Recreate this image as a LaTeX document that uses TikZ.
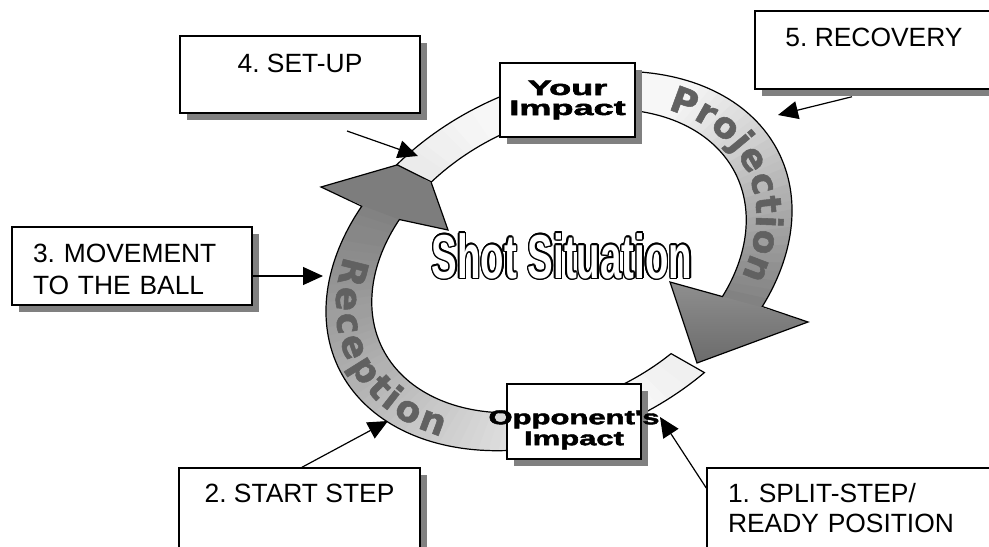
\documentclass[tikz,border=0pt]{standalone}
\usepackage{fontspec}
\setmainfont{Liberation Sans}
\newfontfamily\blackfont{Liberation Sans}[BoldFeatures={FakeBold=2}]
\newfontfamily\bandfam{DejaVu Sans}[BoldFeatures={FakeBold=1.5}]
\newcommand\heavyfont{\blackfont\bfseries}
\usepackage{graphicx}
\usetikzlibrary{shadows,arrows.meta,decorations.text,calc}
\colorlet{bandtext}{black!62}
\newcommand\bandfont{\bandfam\bfseries\fontsize{18}{18}\selectfont\color{bandtext}}
\frenchspacing
\begin{document}
\begin{tikzpicture}[x=0.5pt, y=0.5pt,
  declare function={ex(\q,\ra,\rb)=559+\ra*cos(\q)*0.89879-\rb*sin(\q)*0.43837;
                    ey(\q,\ra,\rb)=-261+\ra*cos(\q)*0.43837+\rb*sin(\q)*0.89879;},
  stepbox/.style={draw=black, line width=0.75pt, fill=white,
    drop shadow={shadow xshift=3.5pt, shadow yshift=-3.5pt, fill=black!50, opacity=1},
    font=\fontsize{13.2}{16}\selectfont, inner sep=0pt},
  impactbox/.style={draw=black, line width=0.75pt, fill=white,
    drop shadow={shadow xshift=3.25pt, shadow yshift=-3.25pt, fill=black!50, opacity=1},
    font=\heavyfont\fontsize{10.5}{10}\selectfont, inner sep=0pt, align=center},
  ringline/.style={draw=black, line width=0.6pt, line join=miter},
  ptr/.style={line width=0.6pt, -{Triangle[length=10pt,width=9pt]}},
  shotfont/.style={font=\bfseries\fontsize{31}{31}\selectfont, inner sep=0pt}
]
\fill[white] (0,0) rectangle (989,-546);
\useasboundingbox (0,0) rectangle (989,-546);

% arrowhead vertices
\coordinate (rwL) at (321,-187);
\coordinate (rtip) at (422.4,-157.6);
\coordinate (rwR) at (448,-230);
\coordinate (pwO) at (808,-322);
\coordinate (ptip) at (697,-363);
\coordinate (pwI) at (670,-282);

% ---------- Reception arrow ----------
\foreach \i in {0,...,59}{
  \pgfmathsetmacro\toa{289.5-161*\i/60}
  \pgfmathsetmacro\tob{289.5-161*(\i+1.4)/60}
  \pgfmathsetmacro\tia{288-158.5*\i/60}
  \pgfmathsetmacro\tib{288-158.5*(\i+1.4)/60}
  \pgfmathsetmacro\tm{289.5-161*(\i+0.5)/60}
  \pgfmathtruncatemacro\pct{\tm>270 ? 3+(\tm-270)*4/19.5 : 3+(270-\tm)*47/141}
  \fill[black!\pct] ({ex(\toa,245,174)},{ey(\toa,245,174)}) -- ({ex(\tob,245,174)},{ey(\tob,245,174)})
     -- ({ex(\tib,197,139)},{ey(\tib,197,139)}) -- ({ex(\tia,197,139)},{ey(\tia,197,139)}) -- cycle;
}
\fill[black!51] ({ex(128.5,245,174)},{ey(128.5,245,174)}) -- (rwL) -- (rtip) -- (rwR)
   -- ({ex(129.5,197,139)},{ey(129.5,197,139)}) -- cycle;
\draw[ringline] plot[domain=0:1, samples=100, variable=\pp] ({ex(289.5-161*\pp,245,174)},{ey(289.5-161*\pp,245,174)})
   -- (rwL) -- (rtip) -- (rwR)
   -- plot[domain=0:1, samples=100, variable=\pp] ({ex(129.5+158.5*\pp,197,139)},{ey(129.5+158.5*\pp,197,139)}) -- cycle;

% ---------- Projection arrow ----------
\foreach \i in {0,...,59}{
  \pgfmathsetmacro\toa{115-163.6*\i/60}
  \pgfmathsetmacro\tob{115-163.6*(\i+1.4)/60}
  \pgfmathsetmacro\tia{114.2-162.4*\i/60}
  \pgfmathsetmacro\tib{114.2-162.4*(\i+1.4)/60}
  \pgfmathsetmacro\tm{115-163.6*(\i+0.5)/60}
  \pgfmathtruncatemacro\pct{\tm>90 ? 3+(\tm-90)*6/25 : (\tm>38 ? 3 : 3+(38-\tm)*47/86.6)}
  \fill[black!\pct] ({ex(\toa,245,174)},{ey(\toa,245,174)}) -- ({ex(\tob,245,174)},{ey(\tob,245,174)})
     -- ({ex(\tib,197,139)},{ey(\tib,197,139)}) -- ({ex(\tia,197,139)},{ey(\tia,197,139)}) -- cycle;
}
\shade[top color=black!44, bottom color=black!58] ({ex(-48.6,245,174)},{ey(-48.6,245,174)}) -- (pwO) -- (ptip) -- (pwI)
   -- ({ex(-48.2,197,139)},{ey(-48.2,197,139)}) -- cycle;
\draw[ringline] plot[domain=0:1, samples=100, variable=\pp] ({ex(115-163.6*\pp,245,174)},{ey(115-163.6*\pp,245,174)})
   -- (pwO) -- (ptip) -- (pwI)
   -- plot[domain=0:1, samples=100, variable=\pp] ({ex(-48.2+162.4*\pp,197,139)},{ey(-48.2+162.4*\pp,197,139)}) -- cycle;

% ---------- band texts ----------
\path[decorate, decoration={text along path, text={|\bandfont|Projection}, text align={fit to path}}]
  plot[domain=0:1, samples=80, variable=\pp] ({ex(38-79*\pp,208,143.5)},{ey(38-79*\pp,208,143.5)});
\path[decorate, decoration={text along path, text={|\bandfont|Reception}, text align={fit to path}}]
  plot[domain=0:1, samples=80, variable=\pp] ({ex(144.5+74.2*\pp,234,169.5)},{ey(144.5+74.2*\pp,234,169.5)});

% ---------- Shot Situation ----------
\coordinate (shotpos) at (562,-256);
\foreach \i in {0,...,15}
  \node[shotfont, text=black, shift={(\i*22.5:0.75pt)}] (shotc\i) at (shotpos) {\scalebox{0.62}[1]{Shot Situation}};
\node[shotfont, text=white] (shot) at (shotpos) {\scalebox{0.62}[1]{Shot Situation}};

% ---------- impact boxes ----------
\node[impactbox, minimum width=67.5pt, minimum height=37pt] (yi) at (567.5,-100)
  {\makebox[0pt]{\scalebox{1.72}[1]{Your}}\\\makebox[0pt]{\scalebox{1.72}[1]{Impact}}};
\node[impactbox, minimum width=67pt, minimum height=37.5pt, font=\heavyfont\fontsize{10}{10.5}\selectfont] (oi) at (574,-421.5)
  {\rule{0pt}{15.3pt}\makebox[0pt]{\scalebox{1.55}[1]{Opponent's}}\\\makebox[0pt]{\scalebox{1.55}[1]{Impact}}};

% ---------- step boxes ----------
\node[stepbox, minimum width=120pt, minimum height=38.5pt, align=center] (b4) at (300,-74.5)
  {\rule{0pt}{13.9pt}4. SET-UP\\\mbox{}};
\node[stepbox, minimum width=119pt, minimum height=39pt, align=center] (b5) at (874,-50)
  {\rule{0pt}{12.4pt}5. RECOVERY\\\mbox{}};
\node[stepbox, minimum height=39pt, text width=99pt, inner xsep=10.5pt, align=left] (b3) at (132,-266)
  {\rule{0pt}{12.4pt}3. MOVEMENT\\TO THE BALL};
\node[stepbox, minimum width=120.5pt, minimum height=40pt, align=center] (b2) at (299.5,-508)
  {\rule{0pt}{10.4pt}2. START STEP\\\mbox{}};
\node[stepbox, minimum height=40pt, text width=124pt, inner xsep=10.5pt, align=left, font=\fontsize{13.2}{15}\selectfont] (b1) at (852,-508)
  {1. SPLIT-STEP/\\READY POSITION};

% ---------- pointers ----------
\coordinate (a4s) at (347,-131);
\coordinate (a4e) at (418,-156);
\coordinate (a5e) at (778,-115);
\coordinate (a3e) at (323,-276);
\coordinate (a2e) at (388,-421);
\coordinate (a1e) at (660,-417);
\draw[ptr] (a4s) -- (a4e);
\draw[ptr] ([xshift=-11pt,yshift=-3.5pt]b5.south) -- (a5e);
\draw[ptr] ([yshift=-5pt]b3.east) -- (a3e);
\draw[ptr] ([xshift=1.25pt]b2.north) -- (a2e);
\draw[ptr] ([yshift=10pt]b1.west) -- (a1e);
\end{tikzpicture}
\end{document}
